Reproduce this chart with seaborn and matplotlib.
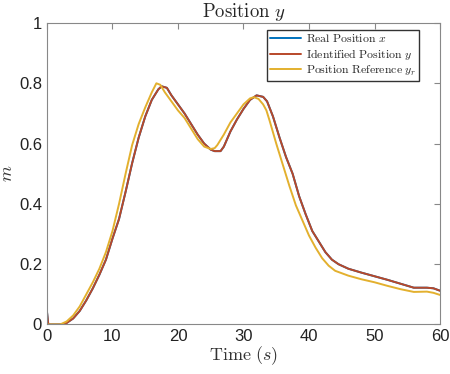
import numpy as np
import pandas as pd
import seaborn as sns
import matplotlib.pyplot as plt
from matplotlib.ticker import FuncFormatter

# ── data ─────────────────────────────────────────────────────────────────
t_ident = [0, 0.2, 2.5, 3, 4, 5, 6, 7, 8, 9, 10, 11, 12, 13, 14, 15, 16, 17,
           17.5, 18.3, 19, 20, 21, 22, 23, 24, 25, 25.6, 26.5, 27, 28, 29, 30,
           31, 32, 33, 33.6, 34.5, 35.5, 36.5, 37.5, 38.5, 39.5, 40.5, 41.5,
           42.5, 43.5, 44.5, 46, 48, 50, 52, 54, 56, 58, 59, 60]
y_ident = [0.042, 0.0, 0.0, 0.005, 0.02, 0.045, 0.08, 0.12, 0.165, 0.215,
           0.285, 0.35, 0.44, 0.535, 0.62, 0.69, 0.745, 0.78, 0.79, 0.785,
           0.76, 0.73, 0.70, 0.665, 0.63, 0.60, 0.58, 0.575, 0.575, 0.59,
           0.64, 0.68, 0.715, 0.745, 0.76, 0.755, 0.74, 0.69, 0.62, 0.555,
           0.50, 0.425, 0.365, 0.31, 0.275, 0.24, 0.215, 0.20, 0.185, 0.172,
           0.16, 0.148, 0.135, 0.122, 0.122, 0.12, 0.112]

t_ref = [0, 2, 3, 4, 5, 6, 7, 8, 9, 10, 11, 12, 13, 14, 15, 16, 16.7, 17.3,
         18, 19, 20, 21, 22, 23, 24, 25, 25.6, 26, 27, 28, 29, 30, 31, 31.6,
         32.3, 33, 33.5, 34, 35, 36, 37, 38, 39, 40, 41, 42, 43, 44, 46, 48,
         50, 52, 54, 56, 58, 59, 60]
y_ref = [0.0, 0.0, 0.01, 0.03, 0.06, 0.10, 0.14, 0.185, 0.24, 0.31, 0.40,
         0.50, 0.595, 0.665, 0.72, 0.77, 0.80, 0.795, 0.77, 0.74, 0.71, 0.685,
         0.65, 0.615, 0.59, 0.582, 0.585, 0.595, 0.63, 0.67, 0.70, 0.73, 0.75,
         0.754, 0.748, 0.73, 0.71, 0.675, 0.60, 0.53, 0.46, 0.395, 0.345,
         0.295, 0.255, 0.22, 0.195, 0.178, 0.162, 0.15, 0.14, 0.128, 0.117,
         0.108, 0.109, 0.105, 0.098]

labels = [r"$\mathrm{Real\ Position}\ x$",
          r"$\mathrm{Identified\ Position}\ y$",
          r"$\mathrm{Position\ Reference}\ y_r$"]
colors = ["#0072BD", "#B8482A", "#E3B02E"]

# real position x coincides with the identified one (hidden under it)
df = pd.concat([
    pd.DataFrame({"t": t_ident, "v": y_ident, "series": labels[0]}),
    pd.DataFrame({"t": t_ident, "v": y_ident, "series": labels[1]}),
    pd.DataFrame({"t": t_ref, "v": y_ref, "series": labels[2]}),
], ignore_index=True)

sns.set_style("white")
plt.rcParams["font.family"] = ["Liberation Sans", "DejaVu Sans"]
plt.rcParams["mathtext.fontset"] = "cm"

fig = plt.figure(figsize=(4.5, 3.74), dpi=100)
ax = fig.add_axes([0.1044, 0.1324, 0.8734, 0.8061])

sns.lineplot(data=df, x="t", y="v", hue="series", hue_order=labels,
             palette=dict(zip(labels, colors)), linewidth=1.4,
             sort=False, estimator=None, ax=ax)

ax.set_xlim(0, 60)
ax.set_ylim(0, 1)
ax.set_xticks(np.arange(0, 61, 10))
ax.set_yticks(np.arange(0, 1.01, 0.2))
ax.yaxis.set_major_formatter(FuncFormatter(lambda v, p: f"{v:g}"))
ax.tick_params(direction="in", length=4, width=0.8, colors="#888888",
               labelcolor="#222222", labelsize=12, top=True, right=True)
for sp in ax.spines.values():
    sp.set_color("#888888")
    sp.set_linewidth(0.8)

ax.set_title(r"$\mathrm{Position}\ y$", fontsize=13.5, pad=4)
ax.set_xlabel(r"$\mathrm{Time}\ (s)$", fontsize=13, color="#333333", labelpad=0)
ax.set_ylabel(r"$m$", fontsize=13, color="#333333", labelpad=2)

h, l = ax.get_legend_handles_labels()
ax.legend(h, l, loc="upper right", bbox_to_anchor=(0.962, 0.998),
          fontsize=8.5, frameon=True, fancybox=False, edgecolor="#333333",
          framealpha=1, handlelength=2.6, handletextpad=0.4,
          borderpad=0.3, labelspacing=0.15)

fig.savefig("out.png", dpi=100)
